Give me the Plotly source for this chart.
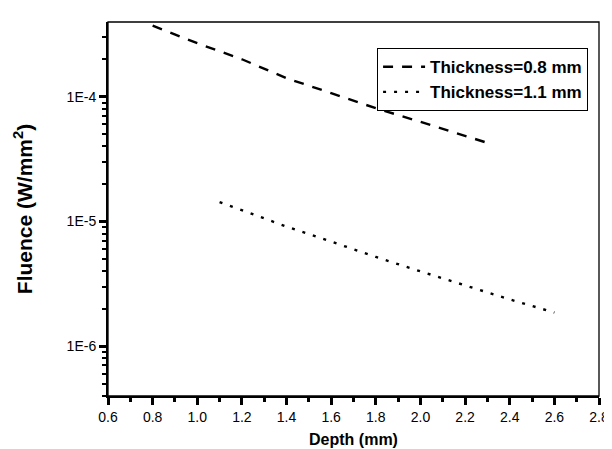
import plotly.graph_objects as go

depth_08 = [0.8, 1.0, 1.2, 1.4, 1.6, 1.8, 2.0, 2.2, 2.3]
fluence_08 = [3.72e-4, 2.69e-4, 2.0e-4, 1.41e-4, 1.07e-4, 8.1e-5, 6.3e-5, 4.9e-5, 4.27e-5]

depth_11 = [1.1, 1.2, 1.4, 1.6, 1.8, 2.0, 2.2, 2.4, 2.6]
fluence_11 = [1.43e-5, 1.23e-5, 9.1e-6, 6.9e-6, 5.19e-6, 3.98e-6, 3.05e-6, 2.37e-6, 1.86e-6]

x_ticks = [0.6, 0.8, 1.0, 1.2, 1.4, 1.6, 1.8, 2.0, 2.2, 2.4, 2.6, 2.8]
x_minor = [0.7, 0.9, 1.1, 1.3, 1.5, 1.7, 1.9, 2.1, 2.3, 2.5, 2.7]
y_tickvals = [1e-6, 1e-5, 1e-4]
y_ticktext = ["1E-6", "1E-5", "1E-4"]
y_minor = [k * 10.0 ** e for e in (-7, -6, -5, -4) for k in range(2, 10)]

X_RANGE = [0.6, 2.8]
Y_RANGE = [-6.4, -3.4]

fig = go.Figure()
fig.add_trace(go.Scatter(x=depth_08, y=fluence_08, mode="lines", name="Thickness=0.8 mm",
                         line=dict(color="black", width=2.4, dash="10px,9px")))
fig.add_trace(go.Scatter(x=depth_11, y=fluence_11, mode="lines", name="Thickness=1.1 mm",
                         line=dict(color="black", width=2.4, dash="3px,8px")))

font_family = "Liberation Sans, Arial, sans-serif"

fig.update_layout(
    width=612, height=449,
    margin=dict(l=100, r=11, t=14, b=57),
    paper_bgcolor="white", plot_bgcolor="white",
    font=dict(family=font_family, size=14, color="black"),
    showlegend=True,
    legend=dict(x=0.548, y=0.93, xanchor="left", yanchor="top",
                bgcolor="white", bordercolor="black", borderwidth=1,
                font=dict(size=17, family=font_family, color="black", weight="bold"),
                itemwidth=42, tracegroupgap=0),
    xaxis=dict(range=X_RANGE, tickmode="array", tickvals=x_ticks,
               ticktext=[f"{v:.1f}" for v in x_ticks],
               showline=True, linecolor="black", linewidth=2, ticks="outside",
               ticklen=7, tickwidth=2.5, tickcolor="black", showgrid=False, zeroline=False,
               minor=dict(tickmode="array", tickvals=x_minor, ticks="outside", ticklen=4,
                          tickwidth=2.5, tickcolor="black", showgrid=False),
               tickfont=dict(size=14),
               title=dict(text="<b>Depth (mm)</b>", font=dict(size=16), standoff=10)),
    yaxis=dict(type="log", range=Y_RANGE, tickmode="array", tickvals=y_tickvals,
               ticktext=y_ticktext,
               showline=True, linecolor="black", linewidth=2, ticks="outside",
               ticklen=7, tickwidth=2.5, tickcolor="black", showgrid=False, zeroline=False,
               minor=dict(tickmode="array", tickvals=y_minor, ticks="outside", ticklen=4,
                          tickwidth=2, tickcolor="black", showgrid=False),
               tickfont=dict(size=14),
               title=dict(text="<b>Fluence (W/mm<sup>2</sup>)</b>", font=dict(size=21), standoff=28)),
    shapes=[dict(type="rect", xref="paper", yref="paper", x0=0, y0=0, x1=1, y1=1,
                 line=dict(color="black", width=1.3))],
)

fig.write_html("out.html")
